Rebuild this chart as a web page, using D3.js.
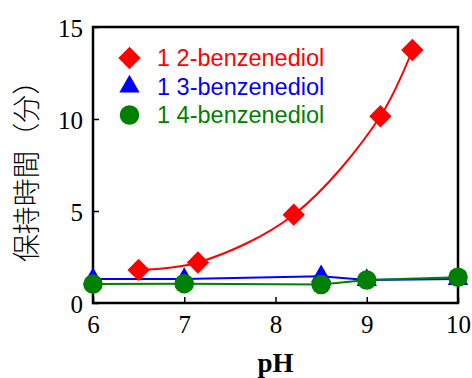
<!DOCTYPE html>
<html>
<head>
<meta charset="utf-8">
<script src="https://d3js.org/d3.v7.min.js"></script>
<style>
  body { margin: 0; background: #fff; }
  svg { display: block; }
</style>
</head>
<body>
<script>
var width = 472, height = 378;
var margin = { top: 27, right: 14, bottom: 75, left: 93 };

// retention time (min) vs pH
var names = ["1 2-benzenediol", "1 3-benzenediol", "1 4-benzenediol"];
var colors = ["#ff0000", "#0000ff", "#008000"];
var shapes = ["diamond", "triangle", "circle"];
var ph12 = [6.5, 7.15, 8.2, 9.15, 9.5];
var rt12 = [1.8, 2.2, 4.8, 10.15, 13.75];
var ph13 = [6, 7, 8.5, 9, 10];
var rt13 = [1.3, 1.3, 1.45, 1.25, 1.3];
var ph14 = [6, 7, 8.5, 9, 10];
var rt14 = [1.03, 1.05, 1.0, 1.25, 1.4];
var xTicks = [6, 7, 8, 9, 10];
var yTicks = [0, 5, 10, 15];

var series = [
    { x: ph12, y: rt12, curve: d3.curveCatmullRom },
    { x: ph13, y: rt13, curve: d3.curveLinear },
    { x: ph14, y: rt14, curve: d3.curveLinear }
];

var svg = d3.select("body").append("svg")
    .attr("width", width)
    .attr("height", height);

var x = d3.scaleLinear().domain([6, 10]).range([margin.left, width - margin.right]);
var y = d3.scaleLinear().domain([0, 15]).range([height - margin.bottom, margin.top]);

// axes, ticks pointing inward
var xAxis = svg.append("g")
    .attr("transform", "translate(0," + (height - margin.bottom) + ")")
    .call(d3.axisBottom(x).tickValues(xTicks).tickSize(-6).tickPadding(12).tickFormat(d3.format("d")));
var yAxis = svg.append("g")
    .attr("transform", "translate(" + margin.left + ",0)")
    .call(d3.axisLeft(y).tickValues(yTicks).tickSize(-6).tickPadding(10).tickFormat(d3.format("d")));

[xAxis, yAxis].forEach(function (g) {
    g.select(".domain").remove();
    g.selectAll("line").attr("stroke", "#000").attr("stroke-width", 1.5);
    g.selectAll("text")
        .attr("font-family", "'Liberation Serif', 'DejaVu Serif', serif")
        .attr("font-size", 25)
        .attr("fill", "#000");
});
yAxis.selectAll("text").attr("dy", "0.36em");

// frame
svg.append("rect")
    .attr("x", x(6)).attr("y", y(15))
    .attr("width", x(10) - x(6)).attr("height", y(0) - y(15))
    .attr("fill", "none").attr("stroke", "#000").attr("stroke-width", 2.5);

var symbolFor = {
    diamond: d3.symbol().type(d3.symbolSquare).size(250),
    triangle: d3.symbol().type(d3.symbolTriangle).size(180),
    circle: d3.symbol().type(d3.symbolCircle).size(300)
};
var rotateFor = { diamond: 45, triangle: 0, circle: 0 };

// draw lines then markers, blue first so green/red sit on top
[1, 2, 0].forEach(function (i) {
    var s = series[i];
    var pts = s.x.map(function (v, j) { return [v, s.y[j]]; });
    var line = d3.line()
        .x(function (d) { return x(d[0]); })
        .y(function (d) { return y(d[1]); })
        .curve(s.curve);
    svg.append("path")
        .datum(pts)
        .attr("d", line)
        .attr("fill", "none")
        .attr("stroke", colors[i])
        .attr("stroke-width", 2);
    svg.selectAll(".m" + i)
        .data(pts)
        .enter()
        .append("path")
        .attr("class", "m" + i)
        .attr("d", symbolFor[shapes[i]])
        .attr("transform", function (d) {
            return "translate(" + x(d[0]) + "," + y(d[1]) + ") rotate(" + rotateFor[shapes[i]] + ")";
        })
        .attr("fill", colors[i]);
});

// legend
var legend = svg.append("g");
names.forEach(function (n, i) {
    var ly = 58 + i * 28.5;
    legend.append("path")
        .attr("d", symbolFor[shapes[i]])
        .attr("transform", "translate(129.5," + ly + ") rotate(" + rotateFor[shapes[i]] + ")")
        .attr("fill", colors[i]);
    legend.append("text")
        .attr("x", 157)
        .attr("y", ly)
        .attr("dy", "0.36em")
        .attr("font-family", "'Liberation Sans', Arial, sans-serif")
        .attr("font-size", 23.5)
        .attr("fill", colors[i])
        .text(n);
});

// axis titles
svg.append("text")
    .attr("x", (x(6) + x(10)) / 2)
    .attr("y", 372)
    .attr("text-anchor", "middle")
    .attr("font-family", "'Liberation Serif', serif")
    .attr("font-weight", "bold")
    .attr("font-size", 27)
    .text("pH");

svg.append("text")
    .attr("transform", "translate(37,164.5) rotate(-90)")
    .attr("text-anchor", "middle")
    .attr("font-family", "'Noto Sans CJK JP', sans-serif")
    .attr("font-weight", 300)
    .attr("font-size", 28)
    .attr("textLength", 195)
    .attr("lengthAdjust", "spacingAndGlyphs")
    .text("保持時間（分）");
</script>
</body>
</html>
